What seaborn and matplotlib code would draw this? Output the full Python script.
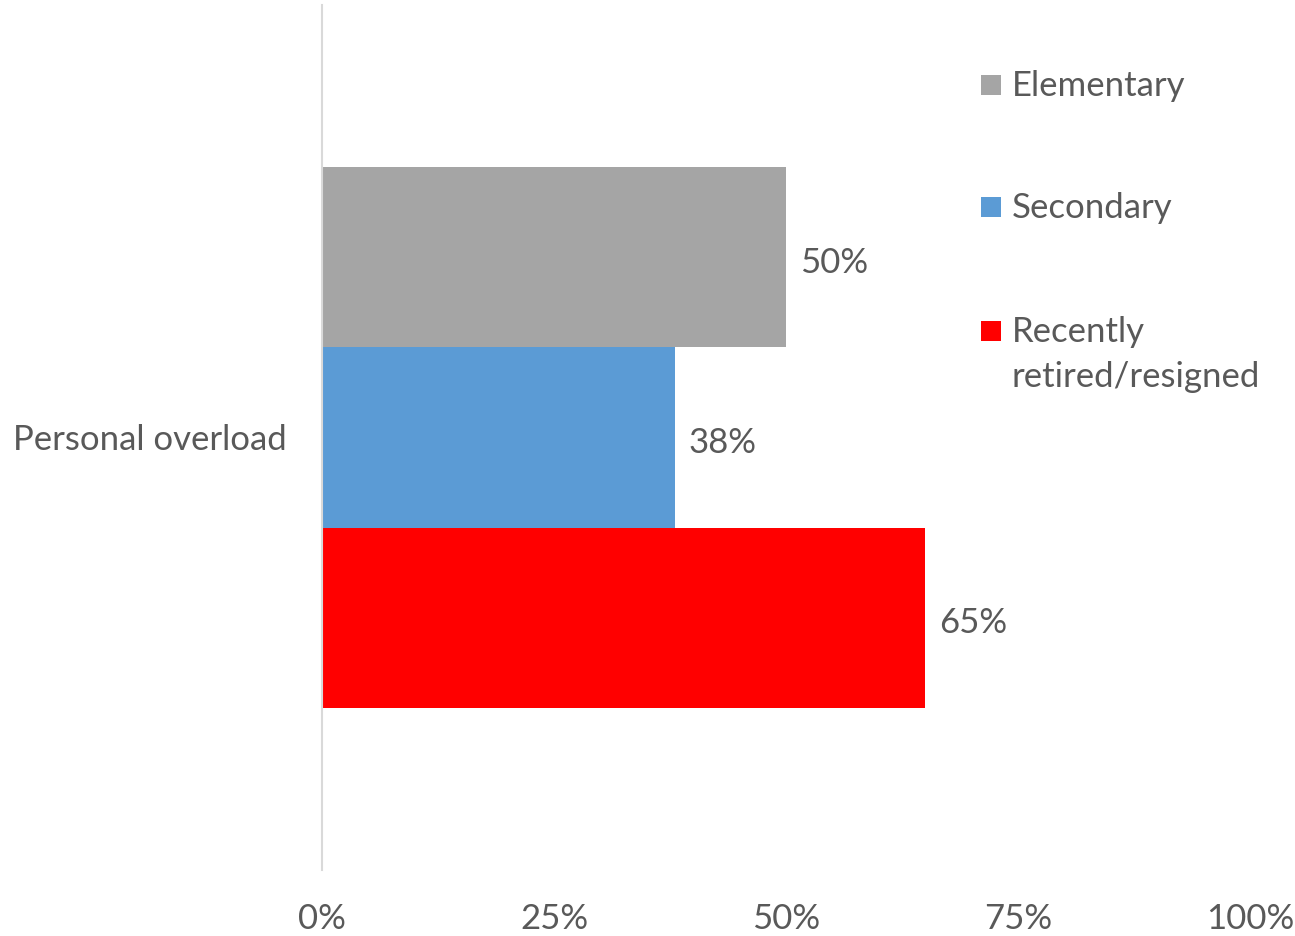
import pandas as pd
import matplotlib
matplotlib.use("Agg")
import matplotlib.pyplot as plt
import matplotlib.patches as mpatches
import seaborn as sns

# --- data ---
categories = ["Personal overload"]
groups = ["Elementary", "Secondary", "Recently retired/resigned"]
legend_labels = ["Elementary", "Secondary", "Recently\nretired/resigned"]
values = [0.50, 0.38, 0.65]
colors = ["#A5A5A5", "#5B9BD5", "#FF0000"]
xticks = [0, 0.25, 0.5, 0.75, 1.0]

df = pd.DataFrame({
    "category": categories * len(groups),
    "group": groups,
    "value": values,
})

sns.set_theme(style="white")
plt.rcParams["font.family"] = ["Lato", "DejaVu Sans"]
text_color = "#595959"
fs = 25

W, H = 1295, 936
fig = plt.figure(figsize=(W / 100, H / 100), dpi=100)
ax = fig.add_axes([0.2486, 0.0705, 0.7167, 0.9242])

sns.barplot(data=df, x="value", y="category", hue="group", hue_order=groups,
            palette=colors, orient="h", width=0.8, saturation=1,
            linewidth=0, ax=ax)
ax.legend_.remove()

for cont in ax.containers:
    anns = ax.bar_label(cont, labels=[f"{v*100:.0f}%" for v in cont.datavalues],
                        padding=10, fontsize=fs, color=text_color)
    for a in anns:
        a.xyann = (10, -4)  # nudge slightly below bar centre as in the original

ax.set_xlim(0, 1)
ax.set_ylim(0.64, -0.64)
ax.set_xticks(xticks)
ax.set_xticklabels([f"{int(t*100)}%" for t in xticks])
ax.tick_params(axis="both", length=0, labelsize=fs, labelcolor=text_color)
ax.tick_params(axis="x", pad=24)
ax.tick_params(axis="y", pad=25)
ax.set_xlabel("")
ax.set_ylabel("")

for s in ["top", "right", "bottom"]:
    ax.spines[s].set_visible(False)
ax.spines["left"].set_color("#D9D9D9")
ax.spines["left"].set_linewidth(1.5)

# legend drawn by hand so the marker sits on the first line of a wrapped label
leg_x, text_x = 981, 1012
baselines = [96, 218, 342]
line_gap = 45
for label, c, yb in zip(legend_labels, colors, baselines):
    fig.patches.append(mpatches.Rectangle(
        (leg_x / W, 1 - (yb - 1) / H), 20 / W, 20 / H,
        transform=fig.transFigure, color=c, linewidth=0))
    for i, line in enumerate(label.split("\n")):
        fig.text(text_x / W, 1 - (yb + i * line_gap) / H, line,
                 fontsize=fs, color=text_color, ha="left", va="baseline")

fig.savefig("out.png", dpi=100)
